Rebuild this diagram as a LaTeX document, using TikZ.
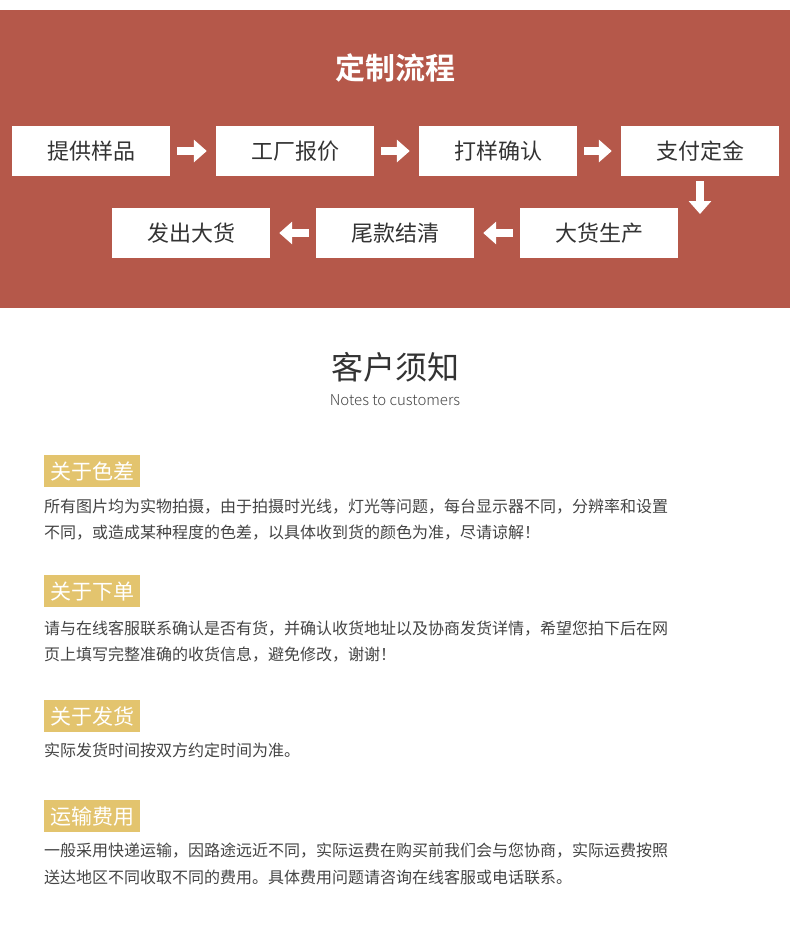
\documentclass[tikz,border=0pt]{standalone}
\usepackage{fontspec}
\setmainfont{Noto Sans CJK SC}
\newfontfamily\cjkbold[FakeBold=0]{Noto Sans CJK SC Bold}
\newfontfamily\cjklight{Noto Sans CJK SC Light}
\usetikzlibrary{arrows.meta,positioning}
\definecolor{brick}{HTML}{B5584A}
\definecolor{sand}{HTML}{E3C46E}
\definecolor{ink}{HTML}{333333}
\definecolor{body}{HTML}{444444}
\tikzset{
  stepbox/.style={fill=white, minimum width=158pt, minimum height=50pt, inner sep=0pt,
    font=\fontsize{22}{24}\selectfont, text=ink},
  flow/.style={white, line width=8pt, -{Triangle[width=22pt,length=13pt]}, shorten <=7pt, shorten >=9pt},
  tag/.style={fill=sand, text=white, minimum height=32pt, inner xsep=6pt, anchor=north west,
    font=\fontsize{21}{23}\selectfont},
  para/.style={anchor=west, text=body, inner sep=0pt, font=\fontsize{16}{18}\selectfont},
}
\begin{document}
\begin{tikzpicture}[x=1pt,y=-1pt]
\useasboundingbox (0,0) rectangle (790,932);
\fill[white] (0,0) rectangle (790,932);
\fill[brick] (0,10) rectangle (790,308);
\node[white, font=\cjkbold\fontsize{30}{32}\selectfont] (title) at (395,68) {定制流程};
% first row
\node[stepbox] (s1) at (91,151) {提供样品};
\node[stepbox] (s2) at (295,151) {工厂报价};
\node[stepbox] (s3) at (498,151) {打样确认};
\node[stepbox] (s4) at (700,151) {支付定金};
% second row
\node[stepbox] (s5) at (599,233) {大货生产};
\node[stepbox] (s6) at (395,233) {尾款结清};
\node[stepbox] (s7) at (191,233) {发出大货};
\draw[flow] (s1) -- (s2);
\draw[flow] (s2) -- (s3);
\draw[flow] (s3) -- (s4);
\coordinate (down) at (700,214);
\draw[flow, shorten <=5pt, shorten >=0pt] (s4) -- (down);
\draw[flow] (s5) -- (s6);
\draw[flow] (s6) -- (s7);
% notes
\node[text=ink, font=\fontsize{32}{34}\selectfont] (notes) at (395,367) {客户须知};
\node[text=body, font=\cjklight\fontsize{15}{17}\selectfont] (notesen) at (395,400) {Notes to customers};
\node[tag] (t1) at (44,455) {关于色差};
\node[para] (p1a) at (44,507) {所有图片均为实物拍摄，由于拍摄时光线，灯光等问题，每台显示器不同，分辨率和设置};
\node[para] (p1b) at (44,533) {不同，或造成某种程度的色差，以具体收到货的颜色为准，尽请谅解！};
\node[tag] (t2) at (44,575) {关于下单};
\node[para] (p2a) at (44,629) {请与在线客服联系确认是否有货，并确认收货地址以及协商发货详情，希望您拍下后在网};
\node[para] (p2b) at (44,655) {页上填写完整准确的收货信息，避免修改，谢谢！};
\node[tag] (t3) at (44,700) {关于发货};
\node[para] (p3a) at (44,750) {实际发货时间按双方约定时间为准。};
\node[tag] (t4) at (44,800) {运输费用};
\node[para] (p4a) at (44,851) {一般采用快递运输，因路途远近不同，实际运费在购买前我们会与您协商，实际运费按照};
\node[para] (p4b) at (44,877) {送达地区不同收取不同的费用。具体费用问题请咨询在线客服或电话联系。};
\end{tikzpicture}
\end{document}
